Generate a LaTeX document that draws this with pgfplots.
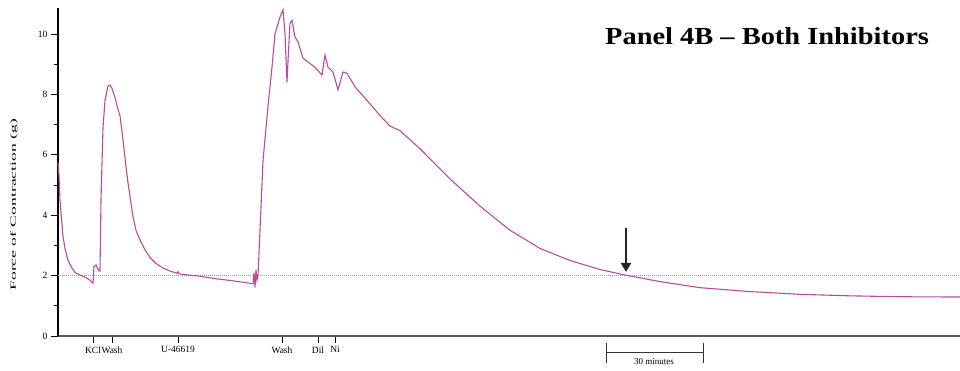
\documentclass[border=0pt]{standalone}
\usepackage{fontspec}
\setmainfont{Liberation Serif}
\usepackage{graphicx}
\usepackage{pgfplots}
\pgfplotsset{compat=1.18}
\usetikzlibrary{arrows.meta}
\definecolor{trace}{RGB}{185,75,160}
\definecolor{axisgray}{RGB}{90,90,90}
\begin{document}
\begin{tikzpicture}
\useasboundingbox (-58pt,-34pt) rectangle (902pt,336pt);
\begin{axis}[
  at={(0,0)}, anchor=south west,
  scale only axis, width=902pt, height=328pt,
  xmin=0, xmax=270.6, ymin=0, ymax=10.86,
  axis lines=left,
  axis line style={-, line width=1.4pt},
  x axis line style={axisgray},
  y axis line style={black},
  ytick={0,2,4,6,8,10}, minor ytick={1,3,5,7,9},
  xtick={10.5,16.2,36,67.2,78,83.1},
  xticklabels={KCl,Wash,U-46619,Wash,Dil,Ni},
  tick align=outside, major tick length=7pt, minor tick length=4pt,
  tick style={black, line width=0.7pt},
  ticklabel style={font=\fontsize{9.5}{10}\selectfont},
  /pgf/number format/assume math mode=true,
  clip=false,
]
\addplot[gray!80, densely dotted, line width=1pt] coordinates {(0,2) (270.6,2)};
\addplot[trace, line width=1.1pt] coordinates {
(0,5.75) (0.3,5.3) (0.6,4.5) (1.2,3.7) (1.5,3.3) (2.1,2.9) (3,2.5) (4.2,2.25)
(5.1,2.1) (6.6,2.02) (8.1,1.95) (9.6,1.85) (10.5,1.75) (10.8,2.3) (11.4,2.35)
(12,2.2) (12.6,2.15) (12.9,4.5) (13.5,6.9) (14.1,7.8) (15,8.28) (15.6,8.3)
(16.2,8.2) (17.1,7.9) (18,7.5) (18.6,7.3) (19.5,6.5) (20.4,5.6) (21,5.07)
(21.9,4.4) (22.5,3.95) (23.4,3.5) (24.6,3.18) (26.1,2.85) (27.6,2.6) (29.4,2.4)
(31.5,2.25) (33.6,2.15) (35.7,2.08) (36,2.13) (36.3,2.06) (39,2.02) (42.6,1.98)
(47,1.9) (51.6,1.84) (55.5,1.78) (58.5,1.73) (58.8,2.1) (59.1,1.6) (59.4,2.2)
(59.7,1.85) (60,2.0) (60.6,3.5) (61.5,5.8) (63,7.6) (64.2,8.9) (65.1,10.0)
(66.6,10.56) (67.5,10.8) (68.1,10.0) (68.7,8.4) (69,9.1) (69.6,10.36) (70.2,10.45)
(71.1,9.9) (72,9.74) (73.5,9.2) (75,9.07) (77.1,8.9) (79.2,8.64) (80.1,9.3)
(81,8.9) (82.5,8.74) (84,8.15) (85.5,8.74) (86.7,8.7) (89.1,8.25) (92.7,7.8)
(96.6,7.3) (99.6,6.95) (102.6,6.8) (108.6,6.2) (117.6,5.2) (126.6,4.3)
(135.6,3.5) (144.6,2.9) (153.6,2.5) (162.6,2.2) (170.1,2.02) (180.6,1.8)
(192.6,1.6) (207.6,1.47) (222.6,1.38) (237.6,1.33) (252.6,1.3) (270.6,1.29)
};
\draw[black!85, line width=2.2pt, -{Triangle[width=10pt,length=9pt]}]
  (axis cs:170.4,3.58) -- (axis cs:170.4,2.12);
\node[anchor=base west, inner sep=0pt]
  at (axis cs:164.1,9.64) {\scalebox{1.16}[1]{\fontsize{24.5}{28}\selectfont\bfseries Panel 4B – Both Inhibitors}};
\node[rotate=90, font=\fontsize{8}{9}\selectfont]
  at ([xshift=-44pt]rel axis cs:0,0.40) {\scalebox{2.2}[1]{Force of Contraction (g)}};
\draw[black!80, line width=0.9pt] (axis cs:164.4,-0.56) -- (axis cs:193.5,-0.56);
\draw[black!80, line width=0.9pt] (axis cs:164.4,-0.23) -- (axis cs:164.4,-0.89);
\draw[black!80, line width=0.9pt] (axis cs:193.5,-0.23) -- (axis cs:193.5,-0.89);
\node[font=\fontsize{9}{10}\selectfont, fill=white, inner sep=0.5pt] at (axis cs:178.8,-0.86) {30 minutes};
\end{axis}
\end{tikzpicture}
\end{document}
